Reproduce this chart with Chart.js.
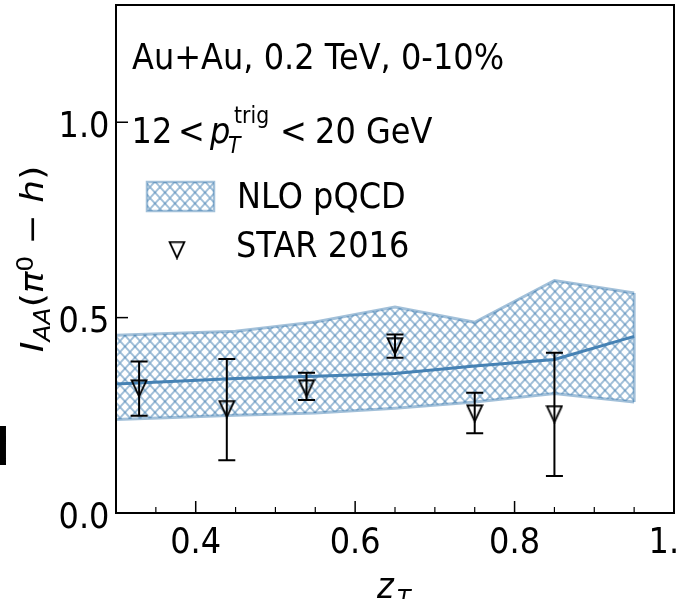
<!DOCTYPE html>
<html>
<head>
<meta charset="utf-8">
<script src="https://cdn.jsdelivr.net/npm/chart.js@4.4.0/dist/chart.umd.min.js"></script>
<style>
  html, body { margin: 0; padding: 0; background: #fff; }
  #wrap { width: 677px; height: 599px; position: relative; }
</style>
</head>
<body>
<div id="wrap"><canvas id="chart" width="677" height="599"></canvas></div>
<script>
// NLO pQCD band: upper / lower edge and central curve
const zTheory = [0.30, 0.45, 0.55, 0.65, 0.75, 0.85, 0.95];
const bandUpper = [0.455, 0.465, 0.489, 0.527, 0.488, 0.595, 0.563];
const bandLower = [0.239, 0.250, 0.256, 0.268, 0.284, 0.306, 0.284];
const bandCentral = [0.330, 0.344, 0.350, 0.357, 0.376, 0.393, 0.452];

// STAR 2016 points with errors
const zStar = [0.329, 0.439, 0.539, 0.650, 0.750, 0.850];
const iaaStar = [0.319, 0.266, 0.319, 0.427, 0.255, 0.253];
const errUp = [0.069, 0.128, 0.040, 0.030, 0.053, 0.157];
const errDown = [0.070, 0.131, 0.030, 0.030, 0.051, 0.158];

// ticks
const xMajor = [0.4, 0.6, 0.8, 1.0];
const xMajorLabels = ["0.4", "0.6", "0.8", "1.0"];
const xMinor = [0.35, 0.45, 0.5, 0.55, 0.65, 0.7, 0.75, 0.85, 0.9, 0.95];
const yMajor = [0.0, 0.5, 1.0];
const yMajorLabels = ["0.0", "0.5", "1.0"];

const SX = 0.89;            // horizontal squeeze of all text
const FAM = "'DejaVu Sans', sans-serif";
const EDGE = "rgba(70,130,180,0.5)";
const LINE = "#4682b4";

// --- hatch pattern for the band --- //
function makeHatch() {
    const c = document.createElement("canvas");
    const w = 10, h = 11;
    c.width = w; c.height = h;
    const g = c.getContext("2d");
    g.strokeStyle = "rgba(70,130,180,0.5)";
    g.lineWidth = 1.9;
    [-w, 0, w].forEach(dx => {
        g.beginPath(); g.moveTo(dx, 0); g.lineTo(dx + w, h); g.stroke();
        g.beginPath(); g.moveTo(dx + w, 0); g.lineTo(dx, h); g.stroke();
    });
    return g.createPattern(c, "repeat");
}

// open down-triangle marker
function makeTriangle() {
    const c = document.createElement("canvas");
    c.width = 18; c.height = 19;
    const g = c.getContext("2d");
    g.strokeStyle = "#000";
    g.lineWidth = 1.8;
    g.beginPath();
    g.moveTo(1.5, 1.5); g.lineTo(16.5, 1.5); g.lineTo(9, 17.5); g.closePath();
    g.stroke();
    return c;
}

const hatch = makeHatch();
const tri = makeTriangle();

function pts(xs, ys) {
    return xs.map((x, i) => ({ x: x, y: ys[i] }));
}

const last = zTheory.length - 1;

// text helper, squeezed horizontally
function put(ctx, s, x, y, font, align) {
    ctx.save();
    ctx.translate(x, y);
    ctx.scale(SX, 1);
    ctx.font = font;
    ctx.textAlign = align || "left";
    ctx.textBaseline = "alphabetic";
    ctx.fillStyle = "#000";
    ctx.fillText(s, 0, 0);
    ctx.restore();
}

// --- error bars, frame, ticks, labels, legend --- //
const decor = {
    id: "decor",
    afterDatasetsDraw(chart) {
        const ctx = chart.ctx;
        const xs = chart.scales.x, ys = chart.scales.y;
        ctx.save();
        ctx.strokeStyle = "#000";
        ctx.lineWidth = 2;
        zStar.forEach((z, i) => {
            const px = xs.getPixelForValue(z);
            const top = ys.getPixelForValue(iaaStar[i] + errUp[i]);
            const bot = ys.getPixelForValue(iaaStar[i] - errDown[i]);
            ctx.beginPath();
            ctx.moveTo(px, top); ctx.lineTo(px, bot);
            ctx.moveTo(px - 8.5, top); ctx.lineTo(px + 8.5, top);
            ctx.moveTo(px - 8.5, bot); ctx.lineTo(px + 8.5, bot);
            ctx.stroke();
        });
        ctx.restore();
    },
    afterDraw(chart) {
        const ctx = chart.ctx;
        const a = chart.chartArea;
        const xs = chart.scales.x, ys = chart.scales.y;
        const F = s => s + "px " + FAM;

        ctx.save();
        // frame
        ctx.strokeStyle = "#000";
        ctx.lineWidth = 2;
        ctx.strokeRect(a.left, a.top, a.right - a.left, a.bottom - a.top);

        // inward ticks
        ctx.lineWidth = 1.5;
        xMajor.forEach(v => {
            const p = xs.getPixelForValue(v);
            ctx.beginPath(); ctx.moveTo(p, a.bottom); ctx.lineTo(p, a.bottom - 12); ctx.stroke();
        });
        ctx.lineWidth = 1.2;
        xMinor.forEach(v => {
            const p = xs.getPixelForValue(v);
            ctx.beginPath(); ctx.moveTo(p, a.bottom); ctx.lineTo(p, a.bottom - 6); ctx.stroke();
        });
        ctx.lineWidth = 1.5;
        yMajor.forEach(v => {
            const p = ys.getPixelForValue(v);
            ctx.beginPath(); ctx.moveTo(a.left, p); ctx.lineTo(a.left + 12, p); ctx.stroke();
        });
        ctx.restore();

        // tick labels
        xMajor.forEach((v, i) => put(ctx, xMajorLabels[i], xs.getPixelForValue(v), a.bottom + 40, F(36), "center"));
        yMajor.forEach((v, i) => put(ctx, yMajorLabels[i], a.left - 6.5, ys.getPixelForValue(v) + 14.5, F(36), "right"));

        // x title  z_T
        put(ctx, "z", 377, 598, "italic " + F(36));
        put(ctx, "T", 397, 607, "italic " + F(25));

        // y title  I_AA(pi^0 - h), rotated
        const parts = [
            { s: "I", f: "italic " + F(36), dy: 0 },
            { s: "AA", f: "italic " + F(25), dy: 8 },
            { s: "(", f: F(36), dy: 0 },
            { s: "\u03c0", f: "italic " + F(36), dy: 0 },
            { s: "0", f: F(25), dy: -11 },
            { s: " \u2212 ", f: F(36), dy: 0 },
            { s: "h", f: "italic " + F(36), dy: 0 },
            { s: ")", f: F(36), dy: 0 }
        ];
        ctx.save();
        let total = 0;
        parts.forEach(p => { ctx.font = p.f; p.w = ctx.measureText(p.s).width; total += p.w; });
        ctx.translate(43, (a.top + a.bottom) / 2);
        ctx.rotate(-Math.PI / 2);
        ctx.scale(1, SX);
        ctx.fillStyle = "#000";
        ctx.textBaseline = "alphabetic";
        let cx = -total / 2;
        parts.forEach(p => {
            ctx.font = p.f;
            ctx.fillText(p.s, cx, p.dy);
            cx += p.w;
        });
        ctx.restore();

        // annotations
        put(ctx, "Au+Au, 0.2 TeV, 0-10%", 132, 69, F(36));
        put(ctx, "12", 131.5, 143, F(36));
        put(ctx, "<", 178, 143, F(36));
        put(ctx, "p", 210, 143, "italic " + F(36));
        put(ctx, "T", 228, 153, "italic " + F(23));
        put(ctx, "trig", 234, 123, F(23));
        put(ctx, "<", 280, 143, F(36));
        put(ctx, "20 GeV", 315, 143, F(36));

        // legend
        ctx.save();
        ctx.fillStyle = hatch;
        ctx.fillRect(147, 182, 67, 29);
        ctx.strokeStyle = EDGE;
        ctx.lineWidth = 2.5;
        ctx.strokeRect(147, 182, 67, 29);
        ctx.drawImage(tri, 177 - tri.width / 2, 250 - tri.height / 2);
        ctx.restore();
        put(ctx, "NLO pQCD", 237, 208, F(36));
        put(ctx, "STAR 2016", 236, 257, F(36));

        // neighbouring panel letter at the left edge
        put(ctx, "d", 10, 465, "bold " + F(52), "right");
    }
};

const ctx = document.getElementById("chart").getContext("2d");

new Chart(ctx, {
    type: "line",
    data: {
        datasets: [
            {
                label: "NLO pQCD",
                data: pts(zTheory, bandUpper),
                borderColor: EDGE,
                borderWidth: 3,
                backgroundColor: hatch,
                fill: "+1",
                pointRadius: 0,
                tension: 0,
                order: 3
            },
            {
                label: "lower",
                data: pts(zTheory, bandLower),
                borderColor: EDGE,
                borderWidth: 3,
                fill: false,
                pointRadius: 0,
                tension: 0,
                order: 3
            },
            {
                label: "edge",
                data: [
                    { x: zTheory[last], y: bandUpper[last] },
                    { x: zTheory[last], y: bandLower[last] }
                ],
                borderColor: EDGE,
                borderWidth: 3,
                fill: false,
                pointRadius: 0,
                order: 3
            },
            {
                label: "central",
                data: pts(zTheory, bandCentral),
                borderColor: LINE,
                borderWidth: 3,
                fill: false,
                pointRadius: 0,
                tension: 0,
                order: 1
            },
            {
                label: "STAR 2016",
                data: pts(zStar, iaaStar),
                showLine: false,
                pointStyle: tri,
                pointRadius: 8,
                order: 0
            }
        ]
    },
    options: {
        responsive: false,
        animation: false,
        devicePixelRatio: 1,
        layout: { autoPadding: false, padding: { left: 116, right: 3, top: 5, bottom: 86 } },
        plugins: { legend: { display: false }, tooltip: { enabled: false } },
        scales: {
            x: { type: "linear", min: 0.3, max: 1.0, display: false },
            y: { type: "linear", min: 0.0, max: 1.3, display: false }
        }
    },
    plugins: [decor]
});
</script>
</body>
</html>
